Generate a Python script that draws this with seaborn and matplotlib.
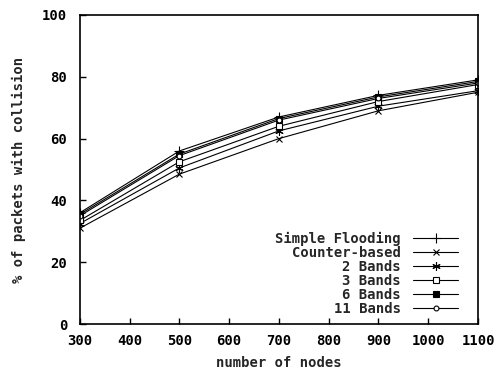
import pandas as pd
import matplotlib
matplotlib.use("Agg")
import matplotlib.pyplot as plt
import seaborn as sns

# vrijednosti ocitane sa slike
nodes = [300, 500, 700, 900, 1100]
simple_flooding = [36, 56, 67, 74, 79]
counter_based = [31, 48.5, 60, 69, 75]
bands_2 = [32.5, 50.5, 62.5, 70.5, 75.5]
bands_3 = [33.5, 52.5, 64, 72, 77.5]
bands_6 = [35.5, 55, 66.5, 73.5, 78.5]
bands_11 = [35, 54.5, 66, 73, 78]

series = [
    ("Simple Flooding", simple_flooding, dict(marker="+", ms=7, mfc="black")),
    ("Counter-based", counter_based, dict(marker="x", ms=5, mfc="black")),
    ("2 Bands", bands_2, dict(marker=(6, 2, 0), ms=6, mfc="black")),
    ("3 Bands", bands_3, dict(marker="s", ms=4, mfc="white")),
    ("6 Bands", bands_6, dict(marker="s", ms=5, mfc="black")),
    ("11 Bands", bands_11, dict(marker="o", ms=3.5, mfc="white")),
]

sns.set_theme(style="ticks")
plt.rcParams["font.family"] = ["DejaVu Sans Mono"]
plt.rcParams["font.weight"] = "bold"

fs = 10
fig = plt.figure(figsize=(4.99, 3.75), dpi=100)
ax = fig.add_axes([0.160, 0.136, 0.798, 0.824])

for name, vals, st in series:
    df = pd.DataFrame({"nodes": nodes, "val": vals})
    sns.lineplot(data=df, x="nodes", y="val", ax=ax, color="black", lw=0.8,
                 mec="black", mew=0.8, label=name, **st)

ax.set_xlim(300, 1100)
ax.set_ylim(0, 100)
ax.set_xticks(range(300, 1101, 100))
ax.set_yticks(range(0, 101, 20))
ax.tick_params(direction="in", length=4, width=1, labelsize=fs, colors="black")
ax.tick_params(axis="x", pad=7)
ax.tick_params(axis="y", pad=9)
for lab in ax.get_xticklabels() + ax.get_yticklabels():
    lab.set_fontweight("bold")
for s in ax.spines.values():
    s.set_visible(True)
    s.set_linewidth(1.2)
    s.set_color("black")
ax.set_xlabel("number of nodes", fontsize=fs, fontweight="bold", labelpad=6)
ax.set_ylabel("% of packets with collision", fontsize=fs, fontweight="bold", labelpad=12)

leg = ax.legend(loc="lower right", frameon=False, markerfirst=False,
                fontsize=fs, handlelength=3.2, labelspacing=0.0,
                borderaxespad=0.2, handletextpad=0.9,
                bbox_to_anchor=(0.97, 0.0))
for t in leg.get_texts():
    t.set_fontweight("bold")

fig.savefig("out.png", dpi=100)
